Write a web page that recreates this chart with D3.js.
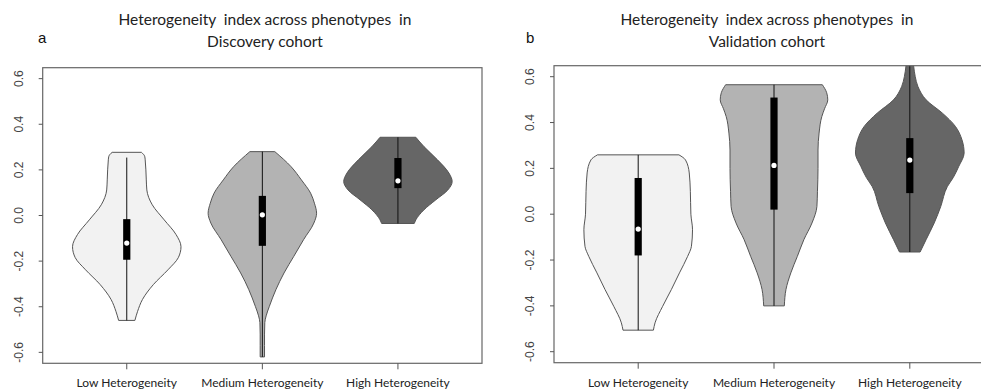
<!DOCTYPE html>
<html lang="en">
<head>
    <meta charset="UTF-8">
    <title>Heterogeneity index violins</title>
    <script src="https://d3js.org/d3.v7.min.js"></script>
    <style>
        body {
            margin: 0;
            padding: 0;
            background: #fff;
            overflow: hidden;
        }
        .title {
            font-family: Lato, "Open Sans", sans-serif;
            font-size: 15.5px;
            fill: #222;
            white-space: pre;
        }
        .panel-letter {
            font-family: "Liberation Sans", Arial, sans-serif;
            font-size: 15px;
            fill: #111;
        }
        .ytick text {
            font-family: "Liberation Sans", Arial, sans-serif;
            font-size: 12px;
            fill: #444;
        }
        .xlab {
            font-family: Lato, "Open Sans", sans-serif;
            font-size: 12px;
            fill: #222;
        }
    </style>
</head>
<body>
    <div id="chart"></div>

    <script>
        // categories and tick labels
        const categories = ["Low Heterogeneity", "Medium Heterogeneity", "High Heterogeneity"];
        const yTicks = [-0.6, -0.4, -0.2, 0.0, 0.2, 0.4, 0.6];

        // violin outlines: [value, relative density (max = 1)]
        const discLow = [[0.277, 0.27], [0.26, 0.33], [0.244, 0.34], [0.156, 0.36], [0.112, 0.37], [0.047, 0.47],
            [-0.019, 0.69], [-0.084, 0.91], [-0.137, 1.0], [-0.185, 0.95], [-0.238, 0.76], [-0.303, 0.49],
            [-0.368, 0.29], [-0.42, 0.2], [-0.46, 0.15]];
        const discMedium = [[0.28, 0.23], [0.214, 0.53], [0.156, 0.72], [0.098, 0.89], [0.054, 0.96], [0.01, 1.0],
            [-0.033, 0.95], [-0.106, 0.76], [-0.179, 0.58], [-0.252, 0.40], [-0.325, 0.25], [-0.398, 0.13],
            [-0.44, 0.07], [-0.47, 0.045], [-0.52, 0.04], [-0.57, 0.04], [-0.62, 0.04]];
        const discHigh = [[0.343, 0.33], [0.302, 0.48], [0.244, 0.73], [0.186, 0.94], [0.149, 1.0], [0.112, 0.92],
            [0.069, 0.7], [0.025, 0.48], [-0.019, 0.33], [-0.035, 0.30]];

        const valLow = [[0.259, 0.75], [0.237, 0.87], [0.18, 0.94], [0.1, 0.96], [0.0, 0.97], [-0.068, 1.0],
            [-0.14, 0.98], [-0.184, 0.91], [-0.256, 0.76], [-0.329, 0.61], [-0.402, 0.45], [-0.474, 0.31],
            [-0.506, 0.28]];
        const valMedium = [[0.565, 0.89], [0.53, 0.97], [0.499, 0.99], [0.46, 0.93], [0.426, 0.88], [0.354, 0.83],
            [0.28, 0.81], [0.2, 0.81], [0.1, 0.80], [0.034, 0.79], [-0.038, 0.70], [-0.111, 0.55],
            [-0.184, 0.43], [-0.256, 0.31], [-0.329, 0.22], [-0.4, 0.19]];
        const valHigh = [[0.69, 0.05], [0.648, 0.07], [0.6, 0.1], [0.557, 0.15], [0.499, 0.30], [0.441, 0.60],
            [0.383, 0.84], [0.325, 0.96], [0.267, 1.0], [0.208, 0.9], [0.16, 0.8], [0.12, 0.69],
            [0.034, 0.57], [-0.038, 0.45], [-0.111, 0.30], [-0.165, 0.19]];

        // box stats: [lower whisker, q1, median, q3, upper whisker]
        const discBoxes = [[-0.46, -0.194, -0.121, -0.016, 0.254], [-0.62, -0.133, 0.003, 0.086, 0.28], [-0.035, 0.12, 0.152, 0.252, 0.343]];
        const valBoxes = [[-0.506, -0.18, -0.065, 0.158, 0.259], [-0.4, 0.02, 0.213, 0.509, 0.565], [-0.165, 0.092, 0.236, 0.332, 0.69]];

        const fills = ["#f2f2f2", "#b3b3b3", "#666666"];

        const width = 981;
        const height = 391;

        const svg = d3.select("#chart").append("svg")
            .attr("width", width)
            .attr("height", height)
            .style("display", "block");

        svg.append("rect").attr("width", width).attr("height", height).attr("fill", "#fff");

        const panels = [
            { id: "a", titleLines: ["Heterogeneity  index across phenotypes  in", "Discovery cohort"], titleX: 265,
              left: 42.7, right: 482, top: 67.7, bottom: 363.3, violins: [discLow, discMedium, discHigh], boxes: discBoxes },
            { id: "b", titleLines: ["Heterogeneity  index across phenotypes  in", "Validation cohort"], titleX: 767,
              left: 554, right: 994, top: 65.7, bottom: 362.7, violins: [valLow, valMedium, valHigh], boxes: valBoxes }
        ];

        panels.forEach((p, pi) => {
            const x = d3.scaleLinear().domain([0.38, 3.62]).range([p.left, p.right]);
            const y = d3.scaleLinear().domain([-0.648, 0.648]).range([p.bottom, p.top]);
            const halfW = (x(1.4) - x(1)); // max half width = 0.4 units

            const g = svg.append("g");

            const clipId = "clip" + pi;
            svg.append("clipPath").attr("id", clipId)
                .append("rect")
                .attr("x", p.left).attr("y", p.top)
                .attr("width", p.right - p.left).attr("height", p.bottom - p.top);

            const plot = g.append("g").attr("clip-path", `url(#${clipId})`);

            p.violins.forEach((v, i) => {
                const cx = x(i + 1);
                const area = d3.area()
                    .y(d => y(d[0]))
                    .x0(d => cx - d[1] * halfW)
                    .x1(d => cx + d[1] * halfW)
                    .curve(d3.curveMonotoneY);

                plot.append("path")
                    .datum(v)
                    .attr("d", area)
                    .attr("fill", fills[i])
                    .attr("stroke", "#555")
                    .attr("stroke-width", 1);

                const b = p.boxes[i];
                plot.append("line")
                    .attr("x1", cx).attr("x2", cx)
                    .attr("y1", y(b[0])).attr("y2", y(b[4]))
                    .attr("stroke", "#111")
                    .attr("stroke-width", 1);

                plot.append("rect")
                    .attr("x", cx - 3.6)
                    .attr("width", 7.2)
                    .attr("y", y(b[3]))
                    .attr("height", y(b[1]) - y(b[3]))
                    .attr("fill", "#000");

                plot.append("circle")
                    .attr("cx", cx)
                    .attr("cy", y(b[2]))
                    .attr("r", 2.6)
                    .attr("fill", "#fff");
            });

            // frame
            g.append("rect")
                .attr("x", p.left).attr("y", p.top)
                .attr("width", p.right - p.left).attr("height", p.bottom - p.top)
                .attr("fill", "none")
                .attr("stroke", "#666")
                .attr("stroke-width", 1.2);

            // y axis ticks
            const yt = g.selectAll(".ytick")
                .data(yTicks)
                .enter().append("g")
                .attr("class", "ytick")
                .attr("transform", d => `translate(${p.left},${y(d)})`);

            yt.append("line")
                .attr("x1", -4).attr("x2", 0)
                .attr("stroke", "#555");

            yt.append("text")
                .attr("transform", "translate(-24,0) rotate(-90)")
                .attr("text-anchor", "middle")
                .attr("dy", "0.35em")
                .text(d => d3.format(".1f")(d).replace("−", "-"));

            // x ticks and labels
            categories.forEach((c, i) => {
                g.append("line")
                    .attr("x1", x(i + 1)).attr("x2", x(i + 1))
                    .attr("y1", p.bottom).attr("y2", p.bottom + 6)
                    .attr("stroke", "#555");
                g.append("text")
                    .attr("class", "xlab")
                    .attr("x", x(i + 1))
                    .attr("y", 387)
                    .attr("text-anchor", "middle")
                    .text(c);
            });

            // title and panel letter
            p.titleLines.forEach((t, k) => {
                g.append("text")
                    .attr("class", "title")
                    .attr("x", p.titleX)
                    .attr("y", 25 + k * 22)
                    .attr("text-anchor", "middle")
                    .text(t);
            });

            g.append("text")
                .attr("class", "panel-letter")
                .attr("x", pi === 0 ? 38 : 526)
                .attr("y", 43)
                .text(p.id);
        });
    </script>
</body>
</html>
